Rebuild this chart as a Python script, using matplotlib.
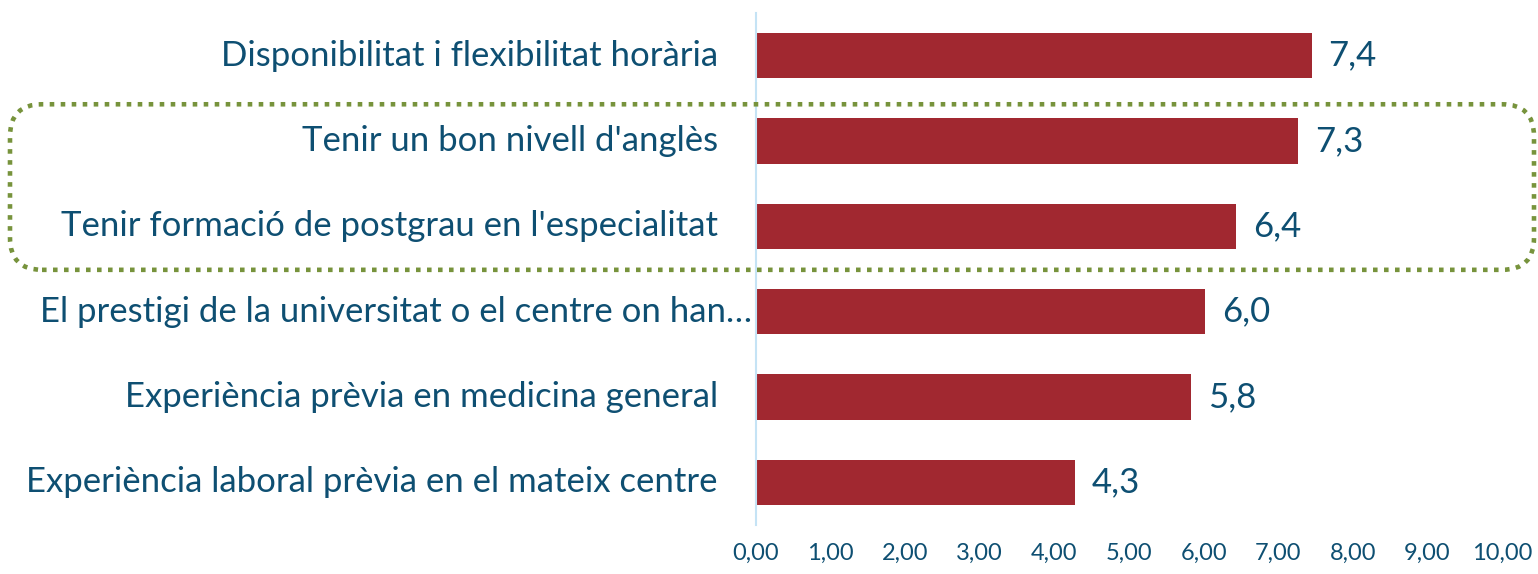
import numpy as np
import matplotlib.pyplot as plt
from matplotlib.patches import FancyBboxPatch
from matplotlib.transforms import IdentityTransform

# data (top to bottom as in the chart)
categories = ["Disponibilitat i flexibilitat horària",
              "Tenir un bon nivell d'anglès",
              "Tenir formació de postgrau en l'especialitat",
              "El prestigi de la universitat o el centre on han…",
              "Experiència prèvia en medicina general",
              "Experiència laboral prèvia en el mateix centre"]
values = [7.45, 7.27, 6.44, 6.02, 5.83, 4.27]
value_labels = ["7,4", "7,3", "6,4", "6,0", "5,8", "4,3"]
xticks = np.arange(0, 11, 1)
xtick_labels = ["0,00", "1,00", "2,00", "3,00", "4,00", "5,00",
                "6,00", "7,00", "8,00", "9,00", "10,00"]
highlight = [1, 2]  # rows inside the dotted box

plt.rcParams['font.family'] = ['Lato', 'DejaVu Sans']
txt_col = '#0E4F72'
bar_col = '#A12830'

fig = plt.figure(figsize=(15.38, 5.74), dpi=100)
ax = fig.add_axes([0.4915, 0.0854, 0.4851, 0.892])

ypos = np.arange(len(values))[::-1]
ax.barh(ypos, values, height=0.53, color=bar_col)

ax.set_xlim(0, 10)
ax.set_ylim(-0.5, 5.5)
ax.set_xticks(xticks)
ax.set_xticklabels(xtick_labels, fontsize=17, color=txt_col)
ax.tick_params(axis='x', length=0, pad=13)
ax.set_yticks([])
for s in ['top', 'right', 'bottom']:
    ax.spines[s].set_visible(False)
ax.spines['left'].set_color('#C5E3F5')
ax.spines['left'].set_linewidth(1.5)

# category labels
for cat, y in zip(categories, ypos):
    off = -4 if cat.endswith('…') else -38
    ax.annotate(cat, xy=(0, y), xycoords='data', xytext=(off * 0.72, 0),
                textcoords='offset points', ha='right', va='center',
                fontsize=25, color=txt_col)

# value labels
for v, lab, y in zip(values, value_labels, ypos):
    ax.annotate(lab, xy=(v, y), xytext=(12, 0), textcoords='offset points',
                ha='left', va='center', fontsize=25, color=txt_col)

# dotted rounded box around highlighted rows (in pixel coords)
fig.canvas.draw()
y_top = ax.transData.transform((0, ypos[highlight[0]] + 0.43))[1]
y_bot = ax.transData.transform((0, ypos[highlight[-1]] - 0.51))[1]
W = fig.get_figwidth() * fig.dpi
x_left, x_right = 10, W - 4
box = FancyBboxPatch((x_left, y_bot), x_right - x_left, y_top - y_bot,
                     boxstyle="round,pad=0,rounding_size=32",
                     transform=IdentityTransform(), fill=False,
                     edgecolor='#77933C', linewidth=3.3,
                     linestyle=(0, (1, 1.4)), clip_on=False)
fig.patches.append(box)

fig.savefig('out.png', dpi=100)
